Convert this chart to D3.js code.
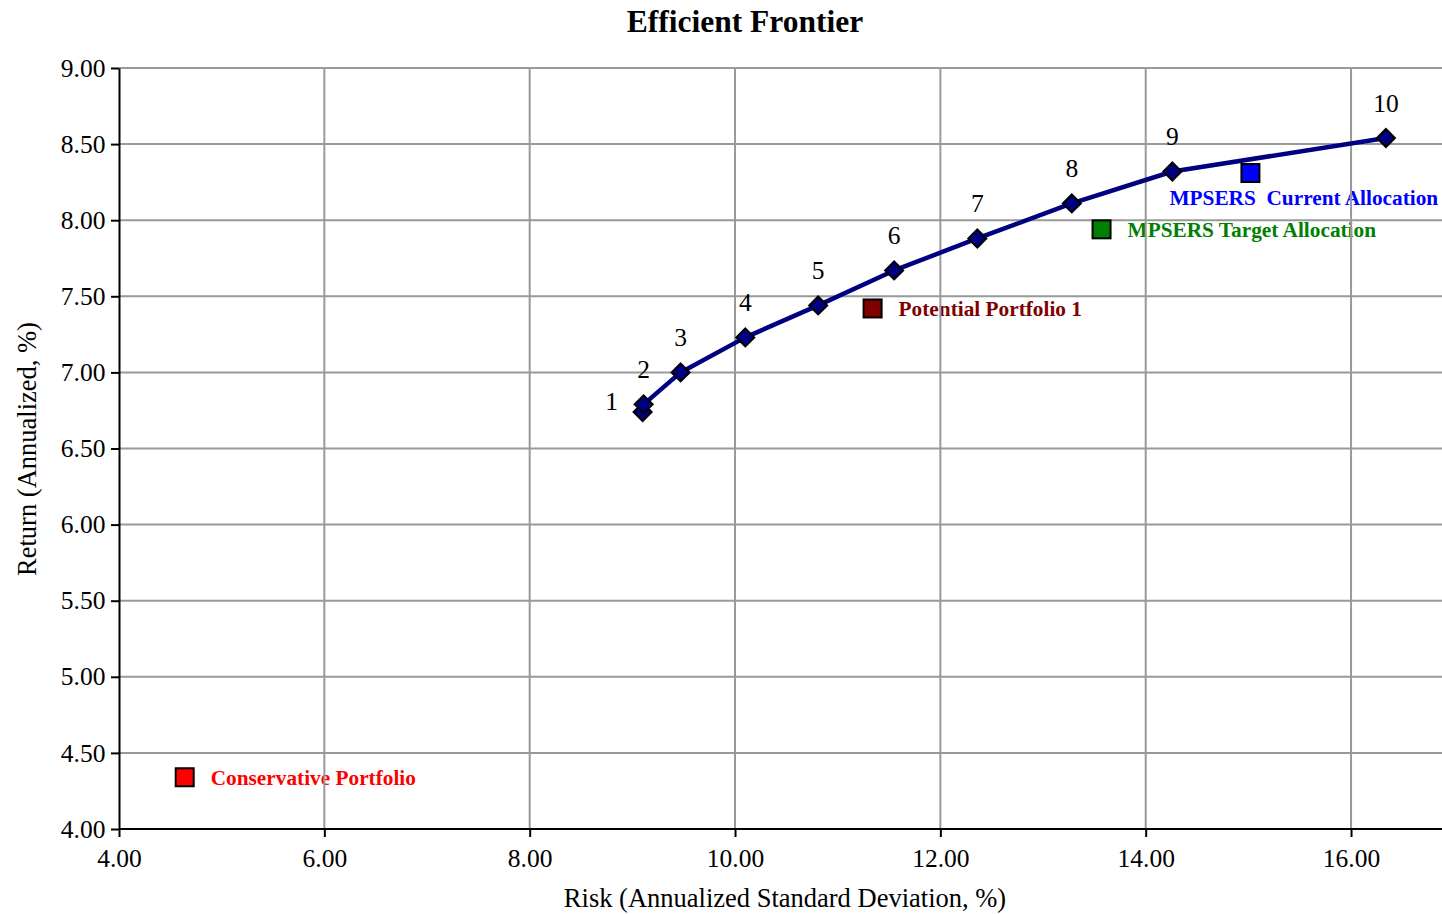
<!DOCTYPE html>
<html><head><meta charset="utf-8">
<script src="https://cdn.jsdelivr.net/npm/d3@7"></script>
<style>body{margin:0;background:#fff}svg{display:block}</style>
</head><body><svg id="c" width="1442" height="914"></svg>
<script>
// Frontier points (risk, return)
const frontierLabels = ["1","2","3","4","5","6","7","8","9","10"];
const frontierRisk   = [9.10, 9.11, 9.47, 10.10, 10.81, 11.55, 12.36, 13.28, 14.26, 16.34];
const frontierReturn = [6.74, 6.79, 7.00, 7.23, 7.44, 7.67, 7.88, 8.11, 8.32, 8.54];
// Portfolios
const portNames  = ["Conservative Portfolio","Potential Portfolio 1","MPSERS Target Allocation","MPSERS  Current Allocation"];
const portRisk   = [4.64, 11.34, 13.57, 15.02];
const portReturn = [4.34, 7.42, 7.94, 8.31];
const portColors = ["#ff0000","#800000","#008000","#0000ff"];
const xTicks = [4,6,8,10,12,14,16];
const yTicks = [4,4.5,5,5.5,6,6.5,7,7.5,8,8.5,9];

const svg = d3.select("#c");
const font = "'Liberation Serif','Times New Roman',serif";
const x = d3.scaleLinear().domain([4,18]).range([119,119+14*102.67]);
const y = d3.scaleLinear().domain([4,9]).range([829,68]);

// title
svg.append("text").attr("x",745).attr("y",32).attr("text-anchor","middle")
  .attr("font-family",font).attr("font-weight","bold").attr("font-size",31.5).text("Efficient Frontier");

// portfolio labels (under grid)
const labOff = [[26,8],[26,8],[26,8],[-81,32]];
portNames.forEach((n,i)=>{
  svg.append("text").attr("x",x(portRisk[i])+labOff[i][0]).attr("y",y(portReturn[i])+labOff[i][1])
    .attr("font-family",font).attr("font-weight","bold").attr("font-size",21.3)
    .attr("xml:space","preserve").style("white-space","pre")
    .attr("fill",portColors[i]).text(n);
});

// grid
const g = svg.append("g");
g.selectAll(".gx").data(xTicks.slice(1)).join("line")
  .attr("x1",d=>x(d)).attr("x2",d=>x(d)).attr("y1",y(4)).attr("y2",y(9))
  .attr("stroke","#999").attr("stroke-width",2);
g.selectAll(".gy").data(yTicks.slice(1)).join("line")
  .attr("x1",x(4)).attr("x2",1442).attr("y1",d=>y(d)).attr("y2",d=>y(d))
  .attr("stroke","#999").attr("stroke-width",2);

// axes
const xAxis = svg.append("g").attr("transform",`translate(0,${y(4)})`)
  .call(d3.axisBottom(x).tickValues(xTicks).tickFormat(d3.format(".2f")).tickSize(8).tickSizeOuter(0));
const yAxis = svg.append("g").attr("transform",`translate(${x(4)},0)`)
  .call(d3.axisLeft(y).tickValues(yTicks).tickFormat(d3.format(".2f")).tickSize(8).tickSizeOuter(0));
[xAxis,yAxis].forEach(a=>{
  a.select(".domain").attr("stroke","#000").attr("stroke-width",2);
  a.selectAll(".tick line").attr("stroke","#000").attr("stroke-width",2);
  a.selectAll("text").attr("font-family",font).attr("font-size",25.5).attr("fill","#000");
});
xAxis.select(".domain").attr("d",`M${x(4)},0H1442`);
xAxis.selectAll(".tick text").attr("dy","1.05em");
yAxis.selectAll(".tick text").attr("dx","-0.1em");

// axis titles
svg.append("text").attr("x",785).attr("y",907).attr("text-anchor","middle")
  .attr("font-family",font).attr("font-size",26.5).text("Risk (Annualized Standard Deviation, %)");
svg.append("text").attr("transform","translate(36,449) rotate(-90)").attr("text-anchor","middle")
  .attr("font-family",font).attr("font-size",26.5).text("Return (Annualized, %)");

// frontier line
const pts = frontierRisk.map((r,i)=>[r,frontierReturn[i]]);
svg.append("path").datum(pts).attr("fill","none").attr("stroke","#000080").attr("stroke-width",4.5)
  .attr("stroke-linejoin","round")
  .attr("d",d3.line().x(d=>x(d[0])).y(d=>y(d[1])));
svg.selectAll(".dm").data(pts).join("path")
  .attr("transform",d=>`translate(${x(d[0])},${y(d[1])})`)
  .attr("d","M0,-9L9,0L0,9L-9,0Z").attr("fill","#000080").attr("stroke","#000").attr("stroke-width",2);
// frontier labels
pts.forEach((d,i)=>{
  const dx = i===0 ? -31 : 0, dy = i===0 ? -2 : -26;
  svg.append("text").attr("x",x(d[0])+dx).attr("y",y(d[1])+dy).attr("text-anchor","middle")
    .attr("font-family",font).attr("font-size",25.5).text(frontierLabels[i]);
});

// portfolio markers
svg.selectAll(".pm").data(portRisk).join("rect")
  .attr("x",(d,i)=>x(d)-9).attr("y",(d,i)=>y(portReturn[i])-9).attr("width",18).attr("height",18)
  .attr("fill",(d,i)=>portColors[i]).attr("stroke","#000").attr("stroke-width",2);
</script></body></html>
